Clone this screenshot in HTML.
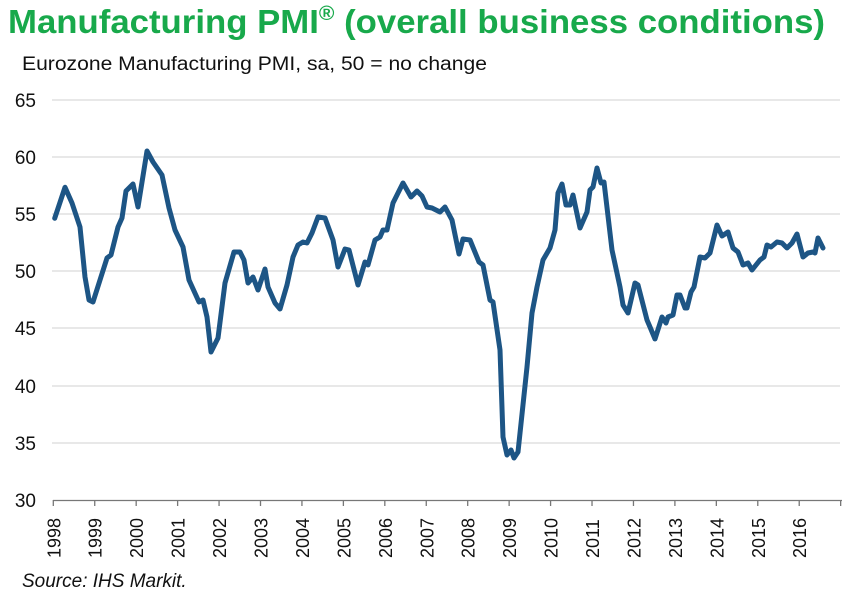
<!DOCTYPE html>
<html><head><meta charset="utf-8"><style>
html,body{margin:0;padding:0;background:#fff;}
svg{display:block;font-family:"Liberation Sans",Arial,sans-serif;}
</style></head><body>
<svg width="851" height="600" viewBox="0 0 851 600" xmlns="http://www.w3.org/2000/svg">
<text x="8" y="33" font-size="33" font-weight="bold" fill="#18a94b" textLength="817" lengthAdjust="spacingAndGlyphs">Manufacturing PMI<tspan font-size="20" dy="-13">®</tspan><tspan dy="13"> (overall business conditions)</tspan></text>
<g>
<line x1="52" y1="100" x2="840" y2="100" stroke="#d9d9d9" stroke-width="1.2"/>
<line x1="52" y1="157" x2="840" y2="157" stroke="#d9d9d9" stroke-width="1.2"/>
<line x1="52" y1="214" x2="840" y2="214" stroke="#d9d9d9" stroke-width="1.2"/>
<line x1="52" y1="271" x2="840" y2="271" stroke="#d9d9d9" stroke-width="1.2"/>
<line x1="52" y1="328" x2="840" y2="328" stroke="#d9d9d9" stroke-width="1.2"/>
<line x1="52" y1="386" x2="840" y2="386" stroke="#d9d9d9" stroke-width="1.2"/>
<line x1="52" y1="443" x2="840" y2="443" stroke="#d9d9d9" stroke-width="1.2"/>
</g>
<g font-size="19" fill="#111" text-anchor="end">
<text x="36" y="107">65</text><text x="36" y="164">60</text><text x="36" y="221">55</text>
<text x="36" y="278">50</text><text x="36" y="335">45</text><text x="36" y="393">40</text>
<text x="36" y="450">35</text><text x="36" y="507">30</text>
</g>
<line x1="53" y1="500.5" x2="842" y2="500.5" stroke="#777" stroke-width="1.3"/>
<g stroke="#777" stroke-width="1.3" id="ticks"></g>
<g font-size="18" fill="#111" id="xl"></g>
<polyline fill="none" stroke="#1d5585" stroke-width="5" stroke-linejoin="round" stroke-linecap="round" points="54.7,218.3 65,187.3 72,203 80,227 85,277 89,300 93,302 100,280 107,258 111,255 118,227 122,218 126,191 133,184 138,207 147,151 153,162 162,175 169,208 175,230 183,247 189,280 199,302 203,300 207,317 211,352 218,338 225,283 234,252 240,252 244,260 248,283 253,277 258,290 265,269 268,287 275,303 280,309 287,285 293,257 298,245 303,242 307,243 312,233 318,217 325,218 333,240 338,267 345,249 349,250 358,285 365,262 368,265 375,240 380,237 383,230 387,230 393,203 397,195 403,183 411,197 417,191 422,196 427,207 432,208 440,212 445,207 452,220 459,254 463,239 470,240 479,262 483,265 490,300 493,302 500,350 503,437 507,455 511,450 514,458 518,452 527,367 532,313 537,287 543,260 550,248 555,230 558,193 562,184 566,205 570,205 573,195 580,228 587,212 590,190 593,187 597,168 601,183 604,182 612,250 620,287 623,305 628,313 635,283 638,285 647,320 650,327 655,339 662,317 666,323 668,317 673,315 677,295 680,295 685,308 687,308 691,292 694,287 700,257 705,258 710,253 717,225 722,236 728,232 733,248 738,252 743,265 748,263 752,270 760,260 764,257 767,245 771,247 777,242 782,243 787,248 792,243 797,234 803,257 808,253 813,252 815,253 818,238 823,248"/>
<text x="22" y="70" font-size="19" fill="#111" textLength="465" lengthAdjust="spacingAndGlyphs">Eurozone Manufacturing PMI, sa, 50 = no change</text>
<text x="22" y="587" font-size="19" font-style="italic" fill="#111">Source: IHS Markit.</text>
<script>
var t=document.getElementById('ticks'),xl=document.getElementById('xl'),ns='http://www.w3.org/2000/svg';
for(var i=0;i<=19;i++){var x=53.3+i*41.44;var l=document.createElementNS(ns,'line');l.setAttribute('x1',x);l.setAttribute('x2',x);l.setAttribute('y1',500);l.setAttribute('y2',506);t.appendChild(l);
if(i<19){var tx=document.createElementNS(ns,'text');tx.setAttribute('transform','translate('+(x+7)+',558) rotate(-90)');tx.textContent=1998+i;xl.appendChild(tx);}}
</script>
</svg>
</body></html>
